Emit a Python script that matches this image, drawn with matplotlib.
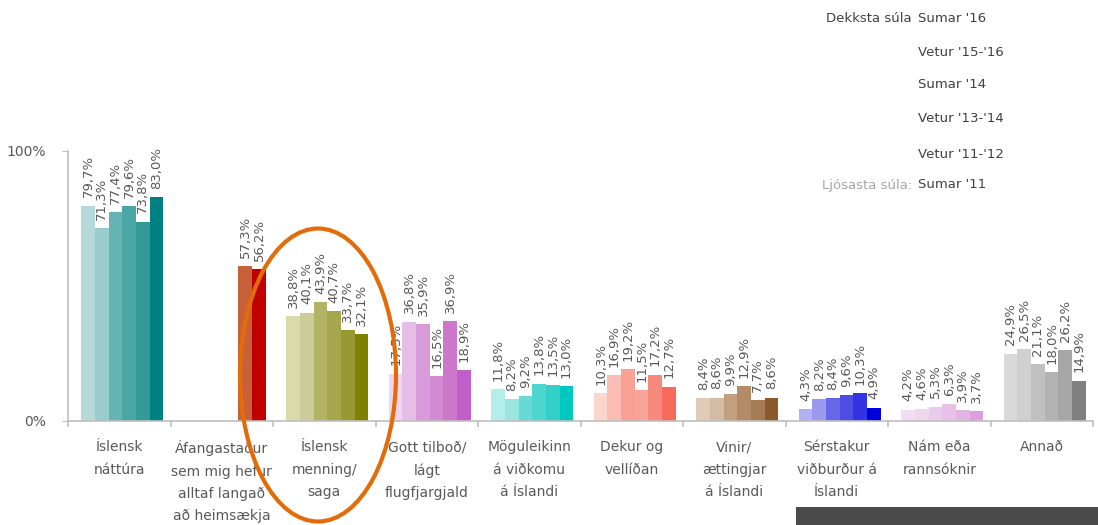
import numpy as np
import matplotlib.pyplot as plt
from matplotlib.patches import Ellipse, Rectangle

######### Data ###############################
categories = ['Íslensk\nnáttúra',
              'Áfangastaður\nsem mig hefur\nalltaf langað\nað heimsækja',
              'Íslensk\nmenning/\nsaga',
              'Gott tilboð/\nlágt\nflugfjargjald',
              'Möguleikinn\ná viðkomu\ná Íslandi',
              'Dekur og\nvellíðan',
              'Vinir/\nættingjar\ná Íslandi',
              'Sérstakur\nviðburður á\nÍslandi',
              'Nám eða\nrannsóknir',
              'Annað']
# seasons, lightest bar first
seasons = ["Sumar '11", "Vetur '11-'12", "Vetur '13-'14", "Sumar '14", "Vetur '15-'16", "Sumar '16"]

nature = [79.7, 71.3, 77.4, 79.6, 73.8, 83.0]
always_wanted = [np.nan, np.nan, np.nan, np.nan, 57.3, 56.2]
culture = [38.8, 40.1, 43.9, 40.7, 33.7, 32.1]
good_offer = [17.5, 36.8, 35.9, 16.5, 36.9, 18.9]
stopover = [11.8, 8.2, 9.2, 13.8, 13.5, 13.0]
wellness = [10.3, 16.9, 19.2, 11.5, 17.2, 12.7]
friends = [8.4, 8.6, 9.9, 12.9, 7.7, 8.6]
special_event = [4.3, 8.2, 8.4, 9.6, 10.3, 4.9]
study = [4.2, 4.6, 5.3, 6.3, 3.9, 3.7]
other = [24.9, 26.5, 21.1, 18.0, 26.2, 14.9]
values = [nature, always_wanted, culture, good_offer, stopover,
          wellness, friends, special_event, study, other]

group_colors = [
    ['#b3d9d9', '#99cccc', '#66b3b3', '#4da6a6', '#339999', '#008080'],
    ['#ffffff', '#ffffff', '#ffffff', '#ffffff', '#c8603a', '#c00000'],
    ['#d9dbad', '#cccc99', '#b3b366', '#a6a64d', '#999933', '#808000'],
    ['#efd5ef', '#e6bde6', '#d99ad9', '#d38ad3', '#cc77cc', '#c15fc8'],
    ['#b3eeea', '#99e6e1', '#66dbd5', '#4dd6cf', '#33d0c8', '#00c8c0'],
    ['#fcd5cd', '#fbbdb3', '#f9a094', '#f7a39a', '#f78a7c', '#f66b5b'],
    ['#dfcbb7', '#d4bca4', '#c0a07f', '#b38b66', '#a57b55', '#8b5a2b'],
    ['#b0b0f2', '#9999ee', '#6666e9', '#4d4de6', '#3333e3', '#0000dd'],
    ['#f2def2', '#efd6ef', '#ebcbeb', '#e8c0e8', '#e3b5e3', '#dda0dd'],
    ['#d9d9d9', '#d0d0d0', '#c0c0c0', '#b2b2b2', '#a6a6a6', '#808080'],
]

W, H = 1098, 525
fig = plt.figure(figsize=(W / 100, H / 100), dpi=100)
ax = fig.add_axes([68 / W, (H - 421) / H, 1025 / W, 270 / H])

bar_w = 0.1334
n = len(seasons)
for g, vals in enumerate(values):
    for i in range(n):
        v = vals[i]
        if np.isnan(v):
            continue
        x = g + (i - (n - 1) / 2) * bar_w + 0.03
        ax.bar(x, v, width=bar_w, color=group_colors[g][i], linewidth=0)
        ax.annotate(f'{v:.1f}%'.replace('.', ','), (x, v), xytext=(0, 6),
                    textcoords='offset points', rotation=90, ha='center',
                    va='bottom', fontsize=9.5, color='#595959',
                    annotation_clip=False)

ax.set_xlim(-0.5, len(categories) - 0.5)
ax.set_ylim(0, 100)
for s in ['top', 'right']:
    ax.spines[s].set_visible(False)
for s in ['left', 'bottom']:
    ax.spines[s].set_color('#bfbfbf')
    ax.spines[s].set_linewidth(1.2)

ax.set_yticks([0, 100])
ax.set_yticklabels(['0%', '100%'])
ax.tick_params(axis='y', length=4, color='#bfbfbf', labelsize=10,
               labelcolor='#595959', pad=12)

ax.set_xticks(np.arange(-0.5, len(categories), 1))
ax.set_xticklabels([])
ax.tick_params(axis='x', which='major', length=4, color='#bfbfbf', width=1.2)
ax.set_xticks(np.arange(len(categories)), minor=True)
ax.set_xticklabels(categories, minor=True, fontsize=10, color='#595959',
                   linespacing=1.75)
ax.tick_params(axis='x', which='minor', length=0, pad=14)

######### overlay in pixel coordinates ############
ov = fig.add_axes([0, 0, 1, 1], zorder=5)
ov.set_xlim(0, W)
ov.set_ylim(H, 0)
ov.axis('off')
ov.patch.set_alpha(0)

ov.add_patch(Ellipse((318, 375), 156, 293, fill=False,
                     edgecolor='#e36c09', linewidth=3))
ov.add_patch(Rectangle((796, 507), W - 796, H - 507, color='#4a4a4a', linewidth=0))

legend_y = [18, 52, 85, 119, 154, 185]
for y, s in zip(legend_y, seasons[::-1]):
    ov.text(918, y, s, fontsize=9.5, color='#404040', va='center', ha='left')
ov.text(912, legend_y[0], 'Dekksta súla', fontsize=9.5, color='#404040',
        va='center', ha='right')
ov.text(912, legend_y[-1], 'Ljósasta súla:', fontsize=9.5, color='#a6a6a6',
        va='center', ha='right')

fig.savefig('out.png', dpi=100)
